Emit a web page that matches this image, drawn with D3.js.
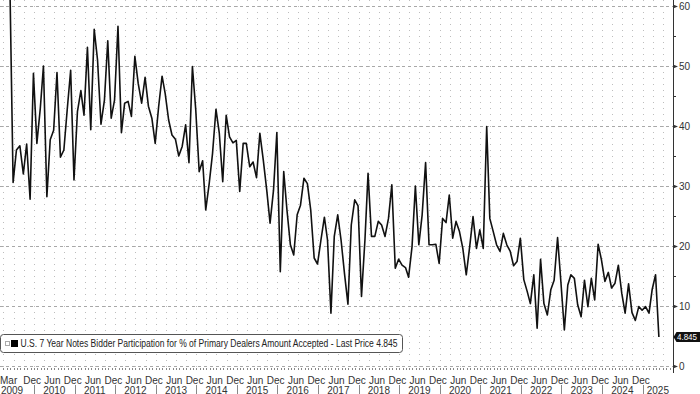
<!DOCTYPE html>
<html>
<head>
<meta charset="utf-8">
<script src="https://cdn.jsdelivr.net/npm/d3@7"></script>
<style>
  body { margin: 0; background: #fff; }
  svg { display: block; }
  text { font-family: "Liberation Sans Narrow", "Liberation Sans", Arial, sans-serif; }
</style>
</head>
<body>
<div id="chart"></div>
<script>
// monthly auctions, first one May 2009, last May 2025
const firstMonth = new Date(2009, 4, 27);
const values = [
  66, 30.6, 36, 36.7, 32, 37, 27.8, 48.8, 37.1, 43,
  50, 28.2, 37.7, 39.3, 48.9, 34.8, 36, 42.7, 49.3, 31,
  42.4, 45.9, 41.8, 53.1, 39.4, 56.1, 51, 40.3, 44.3, 54.2,
  41.3, 44.3, 56.6, 38.9, 43.8, 44.1, 41.6, 51.6, 47.1, 43.8,
  48.1, 43.3, 41.3, 37.1, 43.2, 48.3, 45.4, 41, 38.5, 37.8,
  35, 36.6, 40.2, 33.9, 49.9, 42.7, 32.4, 34.2, 26, 30.4,
  35.4, 42.8, 38.8, 30.7, 41.8, 38.2, 37.2, 37.6, 29.1, 37.1,
  37.1, 33.2, 34, 31.4, 38.8, 34.3, 29.3, 23.8, 29.3, 38.9,
  15.7, 32.4, 26, 20.2, 18.5, 25.2, 26.8, 31.3, 30.4, 26,
  18, 17, 21, 24.8, 21, 8.8, 21.6, 25.2, 21, 15.4,
  10.3, 23.5, 27.7, 26.7, 11.6, 21, 32.1, 21.6, 21.6, 24.1,
  23.5, 21.6, 24.6, 30.2, 16.3, 17.8, 16.8, 16.4, 14.8, 19.9,
  30, 20.2, 25.2, 33.9, 20.2, 20.2, 20.3, 17.1, 24.6, 23.9,
  28.5, 21.3, 24.1, 22.4, 19.6, 15.2, 19.9, 24.9, 19.6, 22.7,
  19.6, 39.9, 24.6, 22.4, 20.2, 19.1, 22.1, 20.2, 19.1, 16.7,
  17.4, 21.3, 14.4, 12.4, 10.4, 15.2, 6.3, 17.8, 10.4, 8.5,
  12.7, 14.3, 21.4, 14, 6, 13.5, 15.2, 14.6, 10.2, 8.2,
  14.3, 9.9, 14.6, 11, 20.3, 17.7, 14.1, 15.6, 13, 13.8,
  16.8, 12.1, 8.8, 13.7, 8.9, 7.6, 9.9, 9.3, 9.9, 8.8,
  12.7, 15.2, 4.845
];
const yTicks = [0, 10, 20, 30, 40, 50, 60];
const yMinorTicks = [5, 15, 25, 35, 45, 55];
const years = d3.range(2009, 2026);
const legendText = "U.S. 7 Year Notes Bidder Participation for % of Primary Dealers Amount Accepted - Last Price 4.845";
const lastLabel = "4.845";

const width = 700, height = 394;
const plotRight = 673, plotBottom = 366;

let data = values.map(function (v, i) {
  return { date: d3.timeMonth.offset(firstMonth, i), value: v };
});

let x = d3.scaleTime()
  .domain([new Date(2009, 2, 1), new Date(2025, 9, 1)])
  .range([0, plotRight]);
let y = d3.scaleLinear().domain([0, 61]).range([plotBottom, 0]);

let svg = d3.select("#chart").append("svg")
  .attr("width", width)
  .attr("height", height);

svg.append("defs").append("clipPath").attr("id", "plotclip")
  .append("rect").attr("x", 0).attr("y", 0)
  .attr("width", plotRight).attr("height", plotBottom);

// quarterly dotted grid
let quarters = d3.timeMonth.every(3).range(new Date(2009, 3, 1), new Date(2025, 9, 1));
svg.append("g").selectAll("line")
  .data(quarters)
  .join("line")
  .attr("x1", d => Math.round(x(d)) + 0.5)
  .attr("x2", d => Math.round(x(d)) + 0.5)
  .attr("y1", 0)
  .attr("y2", plotBottom + 6)
  .attr("stroke", "#bdbdbd")
  .attr("stroke-dasharray", "1,5");

// horizontal dashed grid
svg.append("g").selectAll("line")
  .data(yTicks)
  .join("line")
  .attr("x1", 0)
  .attr("x2", plotRight)
  .attr("y1", d => Math.round(y(d)) + 0.5)
  .attr("y2", d => Math.round(y(d)) + 0.5)
  .attr("stroke", "#a8a8a8")
  .attr("stroke-dasharray", "3,3");

// series line
let line = d3.line().x(d => x(d.date)).y(d => y(d.value));
svg.append("path")
  .datum(data)
  .attr("clip-path", "url(#plotclip)")
  .attr("d", line)
  .attr("fill", "none")
  .attr("stroke", "#111")
  .attr("stroke-width", 1.6)
  .attr("stroke-linejoin", "round");

// right axis
let axis = svg.append("g");
axis.append("line")
  .attr("x1", plotRight + 0.5).attr("x2", plotRight + 0.5)
  .attr("y1", 0).attr("y2", plotBottom + 7)
  .attr("stroke", "#333");
axis.selectAll("path.tri")
  .data(yTicks)
  .join("path")
  .attr("class", "tri")
  .attr("d", d => {
    let yy = y(d) + 0.5;
    return "M" + plotRight + "," + (yy - 2) + "L" + (plotRight + 5) + "," + yy + "L" + plotRight + "," + (yy + 2) + "Z";
  })
  .attr("fill", "#333");
axis.selectAll("line.minor")
  .data(yMinorTicks)
  .join("line")
  .attr("class", "minor")
  .attr("x1", plotRight).attr("x2", plotRight + 3)
  .attr("y1", d => Math.round(y(d)) + 0.5)
  .attr("y2", d => Math.round(y(d)) + 0.5)
  .attr("stroke", "#333");
axis.selectAll("text")
  .data(yTicks)
  .join("text")
  .attr("x", plotRight + 6)
  .attr("y", d => y(d) + 3.5)
  .attr("font-size", "10px")
  .attr("fill", "#333")
  .text(d => d);

// x axis: monthly ticks
let months = d3.timeMonth.range(new Date(2009, 3, 1), new Date(2025, 9, 1));
svg.append("g").selectAll("line")
  .data(months)
  .join("line")
  .attr("x1", d => Math.round(x(d)) + 0.5)
  .attr("x2", d => Math.round(x(d)) + 0.5)
  .attr("y1", plotBottom + 2)
  .attr("y2", plotBottom + 4)
  .attr("stroke", "#888");

// month labels (Mar first, then Dec / Jun)
let monthLabels = [{ date: new Date(2009, 2, 1), first: true }];
d3.timeMonth.range(new Date(2009, 11, 1), new Date(2025, 0, 1)).forEach(function (d) {
  if (d.getMonth() === 5 || d.getMonth() === 11) monthLabels.push({ date: d });
});
let fmtMonth = d3.timeFormat("%b");
svg.append("g").selectAll("text")
  .data(monthLabels)
  .join("text")
  .attr("x", d => d.first ? 0 : x(d3.timeDay.offset(d.date, 15)))
  .attr("y", 384)
  .attr("text-anchor", d => d.first ? "start" : "middle")
  .attr("font-size", "10px")
  .attr("fill", "#333")
  .text(d => fmtMonth(d.date));

// year labels and separators
svg.append("g").selectAll("text")
  .data(years)
  .join("text")
  .attr("x", d => {
    if (d === 2009) return 12;
    let a = x(new Date(d, 0, 1));
    let b = Math.min(x(new Date(d + 1, 0, 1)), plotRight);
    return (a + b) / 2;
  })
  .attr("y", 393.5)
  .attr("text-anchor", "middle")
  .attr("font-size", "10px")
  .attr("fill", "#333")
  .text(d => d);
svg.append("g").selectAll("line")
  .data(years.slice(1))
  .join("line")
  .attr("x1", d => Math.round(x(new Date(d, 0, 1))) + 0.5)
  .attr("x2", d => Math.round(x(new Date(d, 0, 1))) + 0.5)
  .attr("y1", 385)
  .attr("y2", 394)
  .attr("stroke", "#888");

// legend
let legend = svg.append("g");
legend.append("rect")
  .attr("x", 0.5).attr("y", 334.5)
  .attr("width", 402).attr("height", 18)
  .attr("rx", 3)
  .attr("fill", "#fff")
  .attr("stroke", "#555");
legend.append("rect")
  .attr("x", 5.5).attr("y", 341.5).attr("width", 4).attr("height", 4)
  .attr("fill", "none").attr("stroke", "#aaa");
legend.append("rect")
  .attr("x", 11).attr("y", 340).attr("width", 7).attr("height", 7)
  .attr("fill", "#000");
legend.append("text")
  .attr("x", 20.5).attr("y", 347)
  .attr("font-size", "10px")
  .attr("fill", "#222")
  .attr("textLength", 377)
  .attr("lengthAdjust", "spacingAndGlyphs")
  .text(legendText);

// last value badge
let last = data[data.length - 1];
let ly = y(last.value);
svg.append("path")
  .attr("d", "M" + (plotRight + 0.5) + "," + ly + "L" + (plotRight + 3.5) + "," + (ly - 5) +
    "L700," + (ly - 5) + "L700," + (ly + 5) + "L" + (plotRight + 3.5) + "," + (ly + 5) + "Z")
  .attr("fill", "#111");
svg.append("text")
  .attr("x", plotRight + 4)
  .attr("y", ly + 3.3)
  .attr("font-size", "9px")
  .attr("fill", "#fff")
  .attr("textLength", 20)
  .attr("lengthAdjust", "spacingAndGlyphs")
  .text(lastLabel);
</script>
</body>
</html>
